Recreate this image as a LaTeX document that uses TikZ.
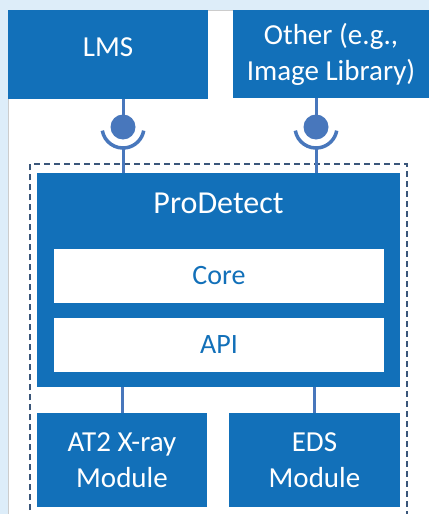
\documentclass[tikz,border=0pt]{standalone}
\usepackage{fontspec}
\setmainfont{Carlito}
\usepackage{tikz}
\usetikzlibrary{positioning}
\definecolor{colorbox}  {RGB}{18 ,112,185}
\definecolor{colorlink} {RGB}{72 ,119,188}
\definecolor{colordash} {RGB}{58 ,86 ,122}
\definecolor{colorback} {RGB}{221,237,249}

\begin{document}
\begin{tikzpicture}[
    x=1pt, y=-1pt,
    node distance = 15pt,
    base/.style={fill=colorbox,text=white,font={\fontsize{29}{36}\selectfont},inner sep=0pt,align=center,rectangle},
    txt/.style={text=white,font={\fontsize{32}{38}\selectfont},align=center},
    inbox/.style={fill=white,text=colorbox,font={\fontsize{28}{34}\selectfont},inner sep=0pt,minimum width=330pt,minimum height=54pt},
    link/.style={draw=colorlink,line width=3pt},
]

    \useasboundingbox (0,0) rectangle (429,514);

    % Background
    \fill[colorback] (0,0) rectangle (429,514);
    \fill[white] (8,10) rectangle (429,514);
    \draw[black!20] (8,514) -- (8,10) -- (429,10);

    % Nodes
    \node[base,minimum width=200pt,minimum height=89pt,text depth=14pt] (lms) at (108,54.5) {LMS};
    \node[base,minimum width=196pt,minimum height=88pt] (other) at (331,54) {Other (e.g.,\\Image Library)};
    \node[base,minimum width=363pt,minimum height=214pt] (prodetect) at (218.5,280) {};
    \node[inbox] (core) at (219,275.5) {Core};
    \node[inbox,below=of core] (api) {API};
    \node[base,minimum width=170pt,minimum height=94pt] (at2) at (122,460) {AT2 X-ray\\Module};
    \node[base,minimum width=171pt,minimum height=94pt] (eds) at (314.5,460) {EDS\\Module};

    % Text
    \node[txt,anchor=base] (prodetecttxt) at (218.5,213) {ProDetect};

    % Frame
    \draw[colordash,line width=1.5pt,dash pattern=on 6pt off 4pt] (30,520) -- (30,164) -- (407,164) -- (407,520);

    % Interfaces
    \coordinate (ball1) at (123,127);
    \coordinate (ball2) at (316,127);
    \coordinate (sock1) at (123,148);
    \coordinate (sock2) at (316,148);
    \draw[link] (lms.south -| ball1) -- (ball1);
    \draw[link] (other.south -| ball2) -- (ball2);
    \fill[colorlink] (ball1) circle (12.5pt);
    \fill[colorlink] (ball2) circle (12.5pt);
    \draw[link,line width=3.5pt] ([shift={(190:21pt)}]ball1) arc[start angle=190,end angle=350,radius=21pt];
    \draw[link,line width=3.5pt] ([shift={(190:21pt)}]ball2) arc[start angle=190,end angle=350,radius=21pt];
    \draw[link] (sock1) -- (prodetect.north -| sock1);
    \draw[link] (sock2) -- (prodetect.north -| sock2);

    % Modules
    \draw[link] (prodetect.south -| at2.north) -- (at2.north);
    \draw[link] (prodetect.south -| eds.north) -- (eds.north);

\end{tikzpicture}
\end{document}
